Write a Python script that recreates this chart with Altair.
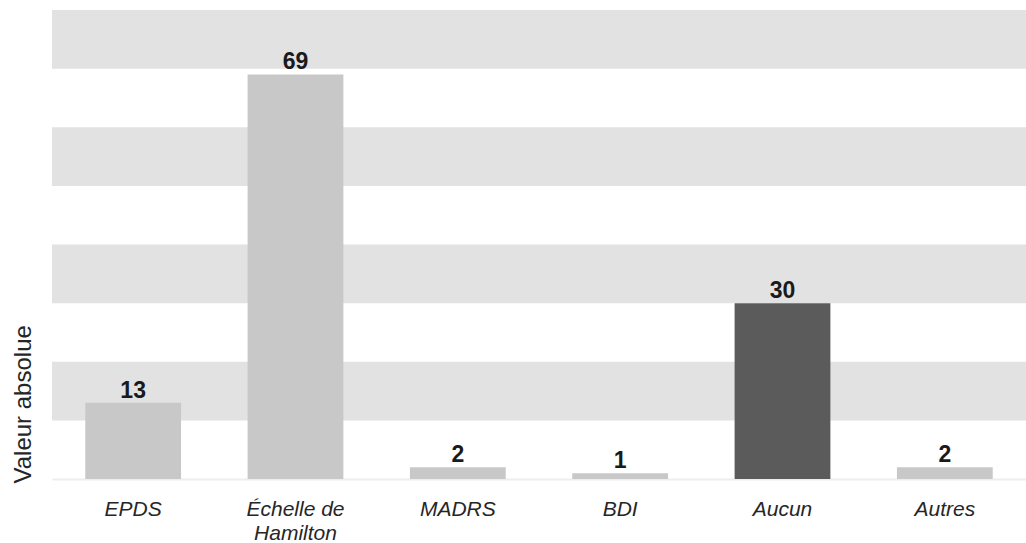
import altair as alt
import pandas as pd

# Instruments used and how many times each was cited
categories = ["EPDS", "Échelle de Hamilton", "MADRS", "BDI", "Aucun", "Autres"]
counts = [13, 69, 2, 1, 30, 2]
highlight = [False, False, False, False, True, False]

# Alternating shaded bands behind the bars (value ranges)
band_low = [10, 30, 50, 70]
band_high = [20, 40, 60, 80]

W, H = 974, 469
FONT = "Liberation Sans"

bars_df = pd.DataFrame({"cat": categories, "n": counts, "hl": highlight})
bands_df = pd.DataFrame({"lo": band_low, "hi": band_high})

y_scale = alt.Scale(domain=[0, 80], nice=False)
x_enc = alt.X(
    "cat:N",
    sort=categories,
    scale=alt.Scale(paddingInner=0.41),
    axis=alt.Axis(
        title=None,
        labelAngle=0,
        labelFont=FONT,
        labelFontSize=21,
        labelFontStyle="italic",
        labelColor="#262626",
        labelPadding=19,
        labelLineHeight=24,
        ticks=False,
        domain=True,
        domainColor="#eeeeee",
        domainWidth=2,
        labelExpr="datum.label == 'Échelle de Hamilton' ? ['Échelle de', 'Hamilton'] : datum.label",
    ),
)

bands = alt.Chart(bands_df).mark_rect(color="#e2e2e2").encode(
    x=alt.value(0),
    x2=alt.value(W),
    y=alt.Y(
        "lo:Q",
        scale=y_scale,
        axis=alt.Axis(
            title="Valeur absolue",
            labels=False,
            ticks=False,
            grid=False,
            domain=False,
            titleFont=FONT,
            titleFontSize=24,
            titleFontWeight="normal",
            titleColor="#262626",
            titleAngle=-90,
            titleAlign="left",
            titleBaseline="middle",
            titleX=-29,
            titleY=H + 4,
        ),
    ),
    y2="hi:Q",
)

bars = alt.Chart(bars_df).mark_bar().encode(
    x=x_enc,
    y=alt.Y("n:Q", scale=y_scale),
    color=alt.Color(
        "hl:N",
        scale=alt.Scale(domain=[False, True], range=["#c8c8c8", "#5b5b5b"]),
        legend=None,
    ),
)

labels = alt.Chart(bars_df).mark_text(
    font=FONT, fontSize=23, fontWeight="bold", color="#1a1a1a", baseline="alphabetic", dy=-5
).encode(
    x=alt.X("cat:N", sort=categories),
    y=alt.Y("n:Q", scale=y_scale),
    text="n:Q",
)

chart = (
    alt.layer(bands, bars, labels)
    .properties(
        width=W,
        height=H,
        autosize=alt.AutoSizeParams(type="none"),
        padding={"left": 52, "top": 10, "right": 0, "bottom": 64},
        background="white",
    )
    .configure_view(stroke=None)
)

chart.save("out.html", embed_options={"renderer": "svg", "actions": False})
